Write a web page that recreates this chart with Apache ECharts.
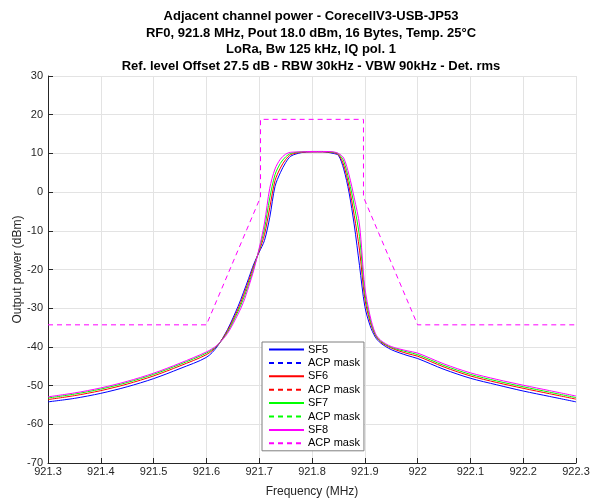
<!DOCTYPE html>
<html>
<head>
<meta charset="utf-8">
<script src="https://cdn.jsdelivr.net/npm/echarts@6/dist/echarts.min.js"></script>
<style>html,body{margin:0;padding:0;background:#fff;}#c{width:592px;height:501px;}</style>
</head>
<body>
<div id="c"></div>
<script>
const freq = [921.30, 921.35, 921.40, 921.45, 921.50, 921.55, 921.60, 921.62, 921.64, 921.66, 921.67, 921.68, 921.69, 921.70, 921.71, 921.72, 921.73, 921.74, 921.75, 921.76, 921.78, 921.80, 921.82, 921.84, 921.85, 921.86, 921.87, 921.88, 921.89, 921.90, 921.91, 921.92, 921.93, 921.95, 921.98, 922.00, 922.05, 922.10, 922.15, 922.20, 922.25, 922.30];
const sf5 = [-54.2, -53.3, -52.0, -50.3, -48.2, -45.6, -42.7, -40.0, -35.5, -29.5, -26.0, -22.3, -18.5, -15.5, -12.5, -6.5, 1.5, 5.0, 7.6, 9.3, 10.2, 10.4, 10.4, 10.0, 9.5, 6.0, 0.0, -8.5, -19.0, -29.5, -34.5, -37.5, -39.0, -40.7, -42.2, -43.0, -45.8, -48.1, -49.8, -51.4, -52.8, -54.2];
const sf6 = [-53.6, -52.6, -51.3, -49.6, -47.5, -44.9, -42.0, -39.8, -35.8, -30.2, -26.8, -23.0, -19.0, -15.2, -11.0, -4.0, 3.0, 6.2, 8.4, 9.7, 10.3, 10.4, 10.4, 10.2, 9.7, 7.0, 1.5, -6.0, -15.0, -27.5, -33.5, -37.0, -38.7, -40.3, -41.7, -42.4, -45.2, -47.5, -49.2, -50.7, -52.1, -53.5];
const sf7 = [-53.2, -52.2, -50.9, -49.2, -47.1, -44.5, -41.6, -39.7, -36.2, -30.8, -27.6, -23.8, -19.5, -14.8, -9.5, -1.5, 4.5, 7.4, 9.1, 10.0, 10.4, 10.5, 10.5, 10.3, 9.9, 8.0, 3.0, -3.5, -11.5, -26.0, -32.8, -36.8, -38.5, -40.1, -41.3, -42.0, -44.8, -47.1, -48.8, -50.3, -51.7, -53.1];
const sf8 = [-52.9, -51.9, -50.6, -48.9, -46.8, -44.2, -41.3, -39.6, -36.5, -31.5, -28.5, -24.5, -20.0, -14.5, -8.0, 1.0, 6.0, 8.5, 9.8, 10.3, 10.4, 10.5, 10.5, 10.4, 10.0, 8.8, 4.5, -1.5, -8.5, -24.5, -32.0, -36.5, -38.3, -39.9, -41.0, -41.6, -44.4, -46.7, -48.4, -49.9, -51.3, -52.7];
const maskFreq = [921.3, 921.6, 921.7025, 921.7025, 921.8975, 921.8975, 922.0, 922.3];
const maskLevel = [-34.3, -34.3, -1.3, 18.8, 18.8, -1.3, -34.3, -34.3];
const titleLines = [
  'Adjacent channel power - CorecellV3-USB-JP53',
  'RF0, 921.8 MHz, Pout 18.0 dBm, 16 Bytes, Temp. 25°C',
  'LoRa, Bw 125 kHz, IQ pol. 1',
  'Ref. level Offset 27.5 dB - RBW 30kHz - VBW 90kHz - Det. rms'
];

const zip = (xs, ys) => xs.map((x, i) => [x, ys[i]]);
const FONT = 'Liberation Sans, Arial, Helvetica, sans-serif';
const TXT = '#262626';

function curve(name, data, color) {
  return { name, type: 'line', data: zip(freq, data), showSymbol: false, symbol: 'none',
    smooth: 0.3, lineStyle: { color, width: 1 }, itemStyle: { color }, animation: false, z: 3 };
}
function mask(name, color, visible) {
  return { name, type: 'line', data: zip(maskFreq, maskLevel), showSymbol: false, symbol: 'none',
    lineStyle: { color, width: 1, type: [5, 4], opacity: visible ? 1 : 0 }, itemStyle: { color },
    animation: false, z: 3 };
}
const legendItem = (name, dashed) => dashed
  ? { name, lineStyle: { opacity: 1, type: [5, 4] } }
  : { name };

const chart = echarts.init(document.getElementById('c'), null, { renderer: 'canvas' });
chart.setOption({
  backgroundColor: '#fff',
  animation: false,
  textStyle: { fontFamily: FONT },
  title: {
    text: titleLines.join('\n'), left: 306, top: 3, textAlign: 'center',
    textStyle: { fontSize: 13, fontWeight: 'bold', color: '#000', lineHeight: 16.7, fontFamily: FONT }
  },
  grid: { left: 48, right: 16, top: 76, bottom: 38, containLabel: false, outerBoundsMode: 'none' },
  xAxis: {
    type: 'value', min: 921.3, max: 922.3, interval: 0.1,
    name: 'Frequency (MHz)', nameLocation: 'middle', nameGap: 23, nameMoveOverlap: false,
    nameTextStyle: { fontSize: 12, color: TXT, fontFamily: FONT },
    axisLine: { show: true, onZero: false, lineStyle: { color: TXT, width: 1 } },
    axisTick: { show: true, inside: true, length: 5, lineStyle: { color: TXT } },
    axisLabel: { fontSize: 11, color: TXT, margin: 3, fontFamily: FONT,
      formatter: v => String(Math.round(v * 10) / 10) },
    splitLine: { show: true, lineStyle: { color: '#e3e3e3', width: 1 } }
  },
  yAxis: {
    type: 'value', min: -70, max: 30, interval: 10,
    name: 'Output power (dBm)', nameLocation: 'middle', nameGap: 24, nameRotate: 90, nameMoveOverlap: false,
    nameTextStyle: { fontSize: 12, color: TXT, fontFamily: FONT },
    axisLine: { show: true, onZero: false, lineStyle: { color: TXT, width: 1 } },
    axisTick: { show: true, inside: true, length: 5, lineStyle: { color: TXT } },
    axisLabel: { fontSize: 11, color: TXT, margin: 5, fontFamily: FONT },
    splitLine: { show: true, lineStyle: { color: '#e3e3e3', width: 1 } }
  },
  legend: {
    orient: 'vertical', left: 262, top: 342,
    backgroundColor: '#fff', borderColor: '#7f7f7f', borderWidth: 1, borderRadius: 0,
    padding: [2, 4, 2, 6], itemWidth: 35, itemHeight: 8, itemGap: 2.4,
    itemStyle: { opacity: 0 },
    textStyle: { fontSize: 11, color: '#000', fontFamily: FONT, padding: [0, 0, 0, -1] },
    formatter: n => n.indexOf('ACP') === 0 ? 'ACP mask' : n,
    data: [legendItem('SF5'), legendItem('ACP mask 5', true), legendItem('SF6'), legendItem('ACP mask 6', true),
           legendItem('SF7'), legendItem('ACP mask 7', true), legendItem('SF8'), legendItem('ACP mask 8', true)]
  },
  series: [
    curve('SF5', sf5, '#0000ff'), mask('ACP mask 5', '#0000ff', false),
    curve('SF6', sf6, '#ff0000'), mask('ACP mask 6', '#ff0000', false),
    curve('SF7', sf7, '#00ff00'), mask('ACP mask 7', '#00ff00', false),
    curve('SF8', sf8, '#ff00ff'), mask('ACP mask 8', '#ff00ff', true)
  ]
});
</script>
</body>
</html>
